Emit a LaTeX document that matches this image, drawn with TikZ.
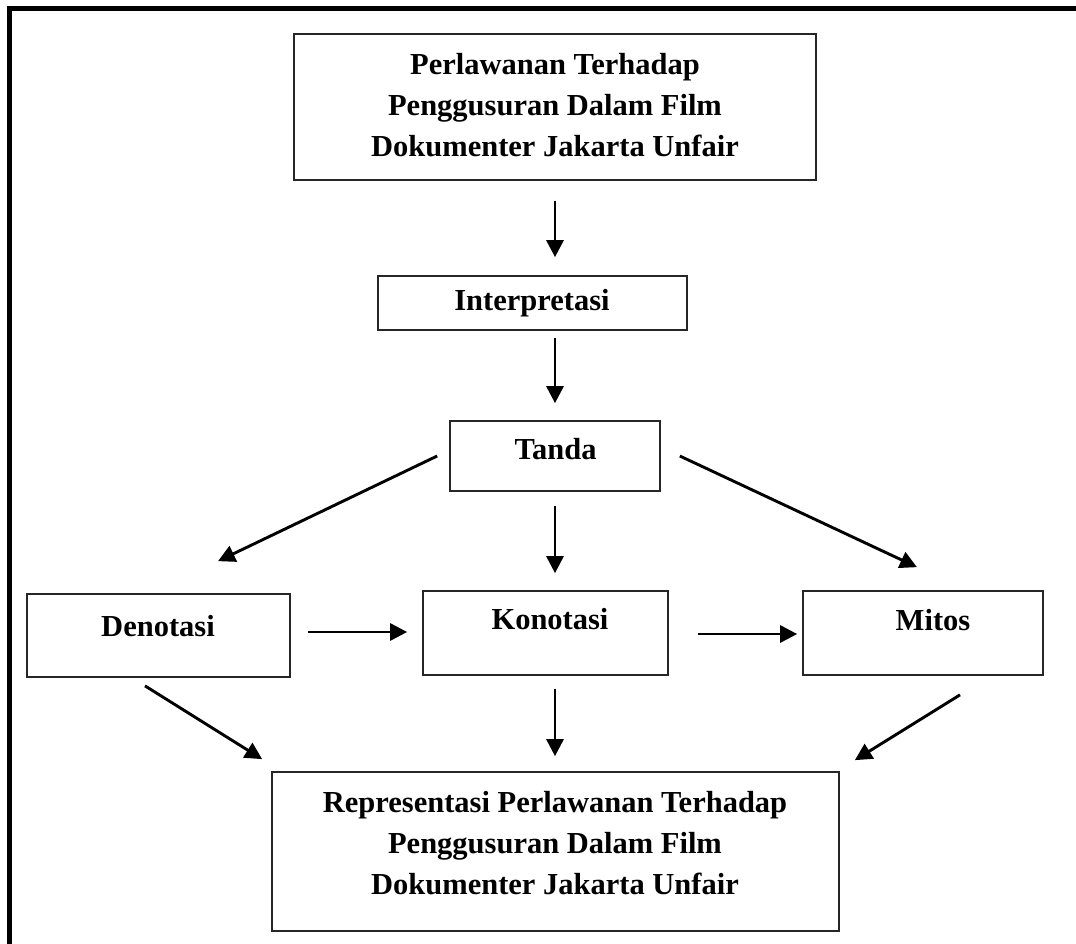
\documentclass[tikz,border=0pt]{standalone}
\usepackage{fontspec}
\setmainfont{Liberation Serif}
\usetikzlibrary{arrows.meta,calc}
\begin{document}
\begin{tikzpicture}[x=1pt,y=-1pt,
  boxnode/.style={draw=black!85,line width=1.7pt,inner sep=0pt,minimum width=#1},
  txt/.style={font=\fontsize{30.5}{41}\selectfont\bfseries,align=center,inner sep=0pt},
  arr/.style={line width=2.9pt,-{Triangle[length=17pt,width=17pt]}}]
\useasboundingbox (0,0) rectangle (1076,943);
\fill[white] (0,0) rectangle (1076,943);
% outer frame (left and top only)
\draw[line width=5pt,line join=miter] (9.5,950) -- (9.5,8.5) -- (1080,8.5);
% boxes
\node[boxnode=522pt,minimum height=146pt] (top) at (555,107) {};
\node[boxnode=309pt,minimum height=54pt] (interp) at (532.5,303) {};
\node[boxnode=210pt,minimum height=70pt] (tanda) at (555,456) {};
\node[boxnode=263pt,minimum height=83pt] (deno) at (158.5,635.5) {};
\node[boxnode=245pt,minimum height=84pt] (kono) at (545.5,633) {};
\node[boxnode=240pt,minimum height=84pt] (mitos) at (923,633) {};
\node[boxnode=567pt,minimum height=159pt] (repr) at (555.5,851.5) {};
% texts
\node[txt] (topT) at (555,105) {Perlawanan Terhadap\\Penggusuran Dalam Film\\Dokumenter Jakarta Unfair};
\node[txt,anchor=base] (interpT) at (532,310) {Interpretasi};
\node[txt,anchor=base] (tandaT) at (555.5,459) {Tanda};
\node[txt,anchor=base] (denoT) at (158,636) {Denotasi};
\node[txt,anchor=base] (konoT) at (550,629) {Konotasi};
\node[txt,anchor=base] (mitosT) at (933,630) {Mitos};
\node[txt] (reprT) at (555,843) {Representasi Perlawanan Terhadap\\Penggusuran Dalam Film\\Dokumenter Jakarta Unfair};
% connectors
\draw[arr] ($(top.south)+(0,20)$) -- ($(interp.north)+(22.5,-18)$);
\draw[arr] ($(interp.south)+(22.5,7)$) -- ($(tanda.north)+(0,-17)$);
\draw[arr] ($(tanda.south)+(0,14)$) -- ($(kono.north)+(9.5,-17)$);
\draw[arr] ($(tanda.west)+(-12,0)$) -- ($(deno.north)+(59.5,-32)$);
\draw[arr] ($(tanda.east)+(19,0)$) -- ($(mitos.north)+(-6,-23)$);
\draw[arr] ($(deno.east)+(17,-3.5)$) -- ($(kono.west)+(-15,-1)$);
\draw[arr] ($(kono.east)+(29,1)$) -- ($(mitos.west)+(-5,1)$);
\draw[arr] ($(deno.south)+(-13.5,8)$) -- ($(repr.north west)+(-9,-12)$);
\draw[arr] ($(kono.south)+(9.5,13)$) -- ($(repr.north)+(-0.5,-15)$);
\draw[arr] ($(mitos.south)+(37,19)$) -- ($(repr.north east)+(15,-11)$);
\end{tikzpicture}
\end{document}
